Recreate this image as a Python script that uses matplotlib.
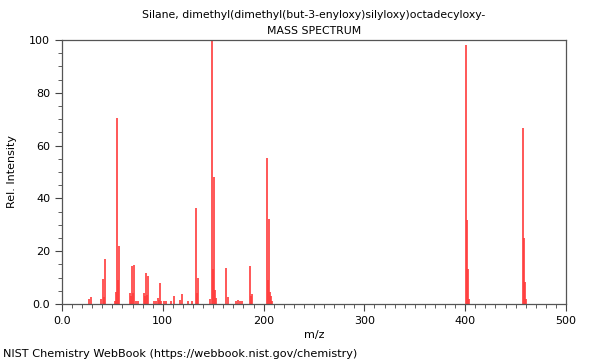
import matplotlib
matplotlib.use("Agg")
import matplotlib.pyplot as plt
from matplotlib.ticker import MultipleLocator

TITLE = "Silane, dimethyl(dimethyl(but-3-enyloxy)silyloxy)octadecyloxy-"

# m/z and relative intensity
mz = [27, 29, 39, 41, 42, 43, 53, 54, 55, 56, 57,
      67, 68, 69, 70, 71, 73, 75, 81, 82, 83, 84, 85,
      91, 93, 95, 96, 97, 98, 101, 103, 108, 111, 117, 119, 125, 129,
      133, 134, 135, 147, 149, 150, 151, 152, 153, 163, 165,
      173, 175, 177, 179, 187, 188, 189, 203, 204, 205, 206, 207, 208,
      401, 402, 403, 404, 457, 458, 459, 460]
intensity = [1.8, 2.5, 2.0, 9.5, 2.5, 17.0, 1.0, 4.5, 70.5, 9.0, 22.0,
             4.0, 3.0, 14.4, 4.0, 14.6, 1.0, 1.0, 4.0, 3.0, 11.8, 3.5, 10.7,
             1.2, 1.0, 2.4, 1.5, 7.8, 1.2, 1.0, 1.0, 1.3, 3.0, 1.5, 3.8, 1.0, 1.0,
             36.5, 4.0, 10.0, 1.8, 100.0, 13.3, 48.0, 5.4, 2.4, 13.5, 2.5,
             1.2, 1.5, 1.0, 1.2, 14.2, 3.0, 3.8, 55.4, 9.0, 32.2, 4.7, 3.1, 1.0,
             98.0, 32.0, 13.3, 2.0, 66.7, 25.0, 8.2, 2.0]


def main():
    fig = plt.figure(figsize=(6, 3.6), dpi=100)
    ax = fig.add_axes([0.1033, 0.1556, 0.84, 0.7333])

    ax.vlines(mz, 0, intensity, colors="#ff3b3b", linewidth=1.2)

    ax.set_xlim(0, 500)
    ax.set_ylim(0, 100)
    ax.xaxis.set_major_locator(MultipleLocator(100))
    ax.xaxis.set_minor_locator(MultipleLocator(10))
    ax.yaxis.set_major_locator(MultipleLocator(20))
    ax.yaxis.set_minor_locator(MultipleLocator(5))
    ax.set_xticks([0, 100, 200, 300, 400, 500], ["0.0", "100", "200", "300", "400", "500"])
    ax.set_yticks([0, 20, 40, 60, 80, 100], ["0.0", "20", "40", "60", "80", "100"])
    ax.tick_params(which="major", length=5, width=0.8, color="#444444", labelsize=8)
    ax.tick_params(which="minor", length=3, width=0.6, color="#444444")
    for s in ax.spines.values():
        s.set_color("#555555")
        s.set_linewidth(0.9)

    ax.set_xlabel("m/z", fontsize=8, labelpad=3)
    ax.set_ylabel("Rel. Intensity", fontsize=8, labelpad=9)
    ax.text(0.5, 1.075, TITLE, transform=ax.transAxes, ha="center", va="bottom", fontsize=7.8)
    ax.text(0.5, 1.015, "MASS SPECTRUM", transform=ax.transAxes, ha="center", va="bottom", fontsize=7.8)
    fig.text(0.005, 0.003, "NIST Chemistry WebBook (https://webbook.nist.gov/chemistry)",
             ha="left", va="bottom", fontsize=8.1)

    fig.savefig("out.png", dpi=100)


if __name__ == "__main__":
    main()
